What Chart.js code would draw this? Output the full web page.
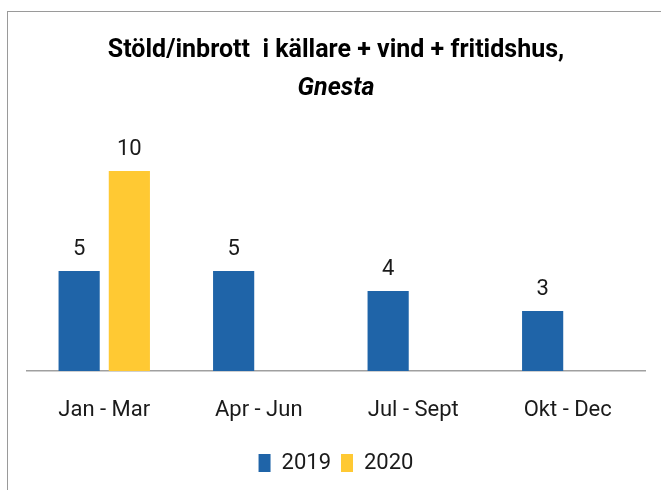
<!DOCTYPE html>
<html>
<head>
<meta charset="utf-8">
<script src="https://cdn.jsdelivr.net/npm/chart.js@4/dist/chart.umd.min.js"></script>
<style>
html,body{margin:0;padding:0;background:#fff;}
#wrap{position:relative;width:661px;height:490px;}
</style>
</head>
<body>
<div id="wrap"><canvas id="c" width="661" height="490"></canvas></div>
<script>
const categories = ["Jan - Mar", "Apr - Jun", "Jul - Sept", "Okt - Dec"];
const series2019 = [5, 5, 4, 3];
const series2020 = [10, null, null, null];
const seriesNames = ["2019", "2020"];
const titleLine1 = "Stöld/inbrott  i källare + vind + fritidshus,";
const titleLine2 = "Gnesta";

const FONT = "Roboto, 'Open Sans', sans-serif";

const frame = {
  id: 'frame',
  beforeDraw(chart) {
    const ctx = chart.ctx;
    ctx.save();
    ctx.fillStyle = '#fff';
    ctx.fillRect(0, 0, chart.width, chart.height);
    ctx.strokeStyle = '#9a9a9a';
    ctx.lineWidth = 1;
    ctx.strokeRect(7.5, 11.5, 800, 600);
    ctx.restore();
  }
};

const valueLabels = {
  id: 'valueLabels',
  afterDatasetsDraw(chart) {
    const ctx = chart.ctx;
    ctx.save();
    ctx.font = "22px " + FONT;
    ctx.fillStyle = '#1a1a1a';
    ctx.textAlign = 'center';
    ctx.textBaseline = 'middle';
    chart.data.datasets.forEach((ds, i) => {
      const meta = chart.getDatasetMeta(i);
      meta.data.forEach((bar, j) => {
        const v = ds.data[j];
        if (v === null || v === undefined) return;
        ctx.fillText(String(v), bar.x, bar.y - 22);
      });
    });
    ctx.restore();
  }
};

new Chart(document.getElementById('c'), {
  type: 'bar',
  data: {
    labels: categories,
    datasets: [
      { label: seriesNames[0], data: series2019, backgroundColor: '#1F64A8' },
      { label: seriesNames[1], data: series2020, backgroundColor: '#FFC933' }
    ]
  },
  options: {
    responsive: false,
    animation: false,
    devicePixelRatio: 1,
    layout: { padding: { left: 27, right: 16, top: 10, bottom: 6 } },
    datasets: { bar: { categoryPercentage: 0.65, barPercentage: 0.82 } },
    scales: {
      x: {
        grid: { display: false, drawTicks: false },
        border: { display: true, color: '#a0a0a0', width: 1.5 },
        ticks: { color: '#1a1a1a', padding: 26, font: { family: FONT, size: 22 } },
        afterFit(s) { s.height = 71; }
      },
      y: {
        display: false,
        min: 0,
        max: 12
      }
    },
    plugins: {
      title: {
        display: true,
        text: titleLine1,
        color: '#000',
        font: { family: FONT, size: 25, weight: 'bold', lineHeight: 1.2 },
        padding: { top: 26, bottom: 0 }
      },
      subtitle: {
        display: true,
        text: titleLine2,
        color: '#000',
        font: { family: FONT, size: 25, weight: 'bold', style: 'italic', lineHeight: 1.2 },
        padding: { top: 8, bottom: 27 }
      },
      legend: {
        position: 'bottom',
        labels: {
          boxWidth: 12,
          boxHeight: 18,
          padding: 10,
          color: '#1a1a1a',
          font: { family: FONT, size: 22 }
        }
      },
      tooltip: { enabled: false }
    }
  },
  plugins: [frame, valueLabels]
});
</script>
</body>
</html>
